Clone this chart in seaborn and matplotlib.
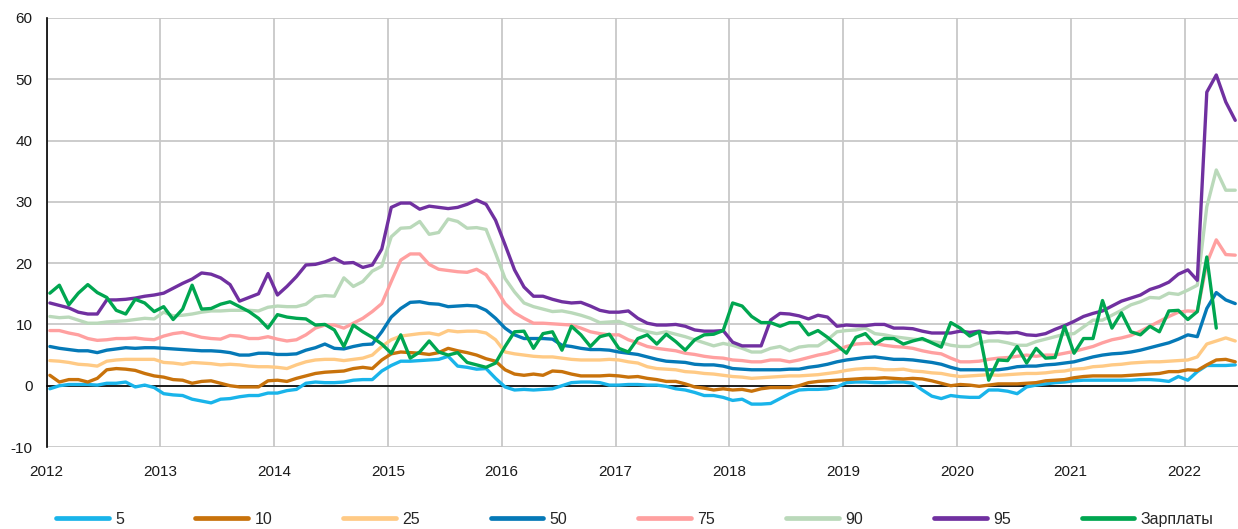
import pandas as pd
import matplotlib
matplotlib.use("Agg")
import matplotlib.pyplot as plt
from matplotlib.lines import Line2D
import seaborn as sns

# monthly values, Jan 2012 .. Jun 2022 (wages end Apr 2022)
p5 = [-0.5, 0.0, 0.2, 0.2, 0.2, 0.1, 0.4, 0.4, 0.6, -0.2, 0.1, -0.3,
      -1.3, -1.5, -1.6, -2.2, -2.5, -2.8, -2.2, -2.1, -1.8, -1.6, -1.6, -1.2,
      -1.2, -0.8, -0.6, 0.4, 0.6, 0.5, 0.5, 0.6, 0.9, 1.0, 1.0, 2.4,
      3.3, 4.0, 4.0, 4.1, 4.2, 4.3, 4.8, 3.2, 3.0, 2.7, 2.8, 1.2,
      -0.2, -0.7, -0.6, -0.7, -0.6, -0.5, 0.0, 0.5, 0.6, 0.6, 0.5, 0.1,
      0.1, 0.2, 0.2, 0.1, 0.1, -0.1, -0.5, -0.7, -1.1, -1.6, -1.6, -1.9,
      -2.4, -2.2, -3.0, -3.0, -2.9, -2.1, -1.3, -0.7, -0.6, -0.6, -0.5, -0.2,
      0.5, 0.6, 0.6, 0.5, 0.5, 0.6, 0.6, 0.4, -0.7, -1.7, -2.1, -1.6,
      -1.8, -1.9, -1.9, -0.7, -0.7, -0.9, -1.3, -0.2, 0.1, 0.3, 0.5, 0.6,
      0.8, 0.9, 0.9, 0.9, 0.9, 0.9, 0.9, 1.0, 1.0, 0.9, 0.7, 1.5,
      0.9, 2.3, 3.3, 3.3, 3.3, 3.4]
p10 = [1.7, 0.6, 1.0, 1.0, 0.6, 1.2, 2.6, 2.8, 2.7, 2.5, 2.0, 1.6,
       1.4, 1.0, 0.9, 0.4, 0.7, 0.8, 0.4, 0.0, -0.2, -0.2, -0.2, 0.8,
       0.9, 0.7, 1.2, 1.6, 2.0, 2.2, 2.3, 2.4, 2.8, 3.0, 2.8, 4.2,
       5.2, 5.5, 5.4, 5.3, 5.1, 5.4, 6.1, 5.7, 5.4, 5.0, 4.4, 4.0,
       2.6, 1.9, 1.7, 1.9, 1.7, 2.4, 2.3, 1.9, 1.6, 1.6, 1.6, 1.7,
       1.6, 1.4, 1.5, 1.2, 1.0, 0.7, 0.7, 0.3, -0.2, -0.4, -0.7, -0.5,
       -0.7, -0.6, -0.9, -0.5, -0.3, -0.3, -0.3, 0.0, 0.5, 0.7, 0.8, 0.9,
       1.0, 1.1, 1.2, 1.2, 1.3, 1.2, 1.1, 1.2, 1.1, 0.8, 0.4, 0.0,
       0.2, 0.1, -0.1, 0.1, 0.3, 0.3, 0.3, 0.4, 0.5, 0.8, 0.9, 1.0,
       1.3, 1.5, 1.6, 1.6, 1.6, 1.6, 1.7, 1.8, 1.9, 2.0, 2.3, 2.3,
       2.6, 2.5, 3.4, 4.2, 4.3, 3.9]
p25 = [4.1, 4.0, 3.8, 3.5, 3.4, 3.2, 4.0, 4.2, 4.3, 4.3, 4.3, 4.3,
       3.8, 3.7, 3.5, 3.8, 3.7, 3.6, 3.4, 3.5, 3.4, 3.2, 3.1, 3.1,
       3.0, 2.8, 3.4, 3.9, 4.2, 4.3, 4.3, 4.1, 4.3, 4.5, 5.0, 6.4,
       7.5, 8.1, 8.3, 8.5, 8.6, 8.3, 9.0, 8.8, 8.9, 8.9, 8.6, 7.5,
       5.5, 5.2, 5.0, 4.8, 4.7, 4.7, 4.5, 4.3, 4.2, 4.2, 4.2, 4.3,
       4.2, 3.9, 3.7, 3.1, 2.8, 2.7, 2.6, 2.3, 2.2, 2.0, 1.9, 1.7,
       1.5, 1.4, 1.2, 1.3, 1.4, 1.5, 1.6, 1.6, 1.7, 1.8, 2.0, 2.2,
       2.5, 2.7, 2.8, 2.8, 2.6, 2.6, 2.7, 2.4, 2.3, 2.1, 2.0, 1.7,
       1.5, 1.6, 1.7, 1.8, 1.7, 1.8, 1.9, 2.0, 2.0, 2.1, 2.3, 2.4,
       2.7, 2.8, 3.1, 3.2, 3.4, 3.5, 3.7, 3.8, 3.9, 3.9, 4.0, 4.1,
       4.2, 4.7, 6.8, 7.3, 7.8, 7.3]
p50 = [6.4, 6.1, 5.9, 5.7, 5.7, 5.4, 5.8, 6.0, 6.2, 6.1, 6.2, 6.2,
       6.1, 6.0, 5.9, 5.8, 5.7, 5.7, 5.6, 5.4, 5.0, 5.0, 5.3, 5.3,
       5.1, 5.1, 5.2, 5.8, 6.2, 6.8, 6.1, 6.0, 6.4, 6.7, 6.8, 8.8,
       11.2, 12.6, 13.6, 13.7, 13.4, 13.3, 12.9, 13.0, 13.1, 13.0, 12.3, 11.0,
       9.4, 8.3, 7.7, 7.7, 7.7, 7.6, 6.6, 6.4, 6.1, 5.9, 5.9, 5.8,
       5.5, 5.3, 5.1, 4.7, 4.3, 4.0, 3.9, 3.8, 3.5, 3.4, 3.4, 3.2,
       2.8, 2.7, 2.6, 2.6, 2.6, 2.6, 2.7, 2.7, 3.0, 3.2, 3.5, 3.9,
       4.2, 4.4, 4.6, 4.7, 4.5, 4.3, 4.3, 4.2, 4.0, 3.8, 3.5, 3.0,
       2.6, 2.6, 2.6, 2.6, 2.6, 2.8, 3.1, 3.2, 3.2, 3.4, 3.5, 3.7,
       3.9, 4.3, 4.7, 5.0, 5.2, 5.3, 5.5, 5.8, 6.2, 6.6, 7.0, 7.6,
       8.3, 8.0, 12.6, 15.2, 14.0, 13.4]
p75 = [9.0, 9.0, 8.6, 8.3, 7.7, 7.4, 7.5, 7.7, 7.7, 7.8, 7.6, 7.5,
       8.1, 8.5, 8.7, 8.3, 7.9, 7.7, 7.6, 8.2, 8.1, 7.7, 7.7, 8.0,
       7.6, 7.3, 7.5, 8.3, 9.4, 9.9, 9.9, 9.4, 10.2, 11.0, 12.1, 13.4,
       17.0, 20.5, 21.5, 21.5, 19.8, 19.0, 18.8, 18.6, 18.5, 19.0, 18.1, 15.9,
       13.4, 11.9, 11.0, 10.2, 10.2, 10.1, 10.0, 9.9, 9.4, 8.8, 8.5, 8.3,
       8.3, 7.5, 7.0, 6.4, 6.1, 5.9, 5.7, 5.3, 5.1, 4.8, 4.6, 4.5,
       4.2, 4.1, 3.9, 3.9, 4.2, 4.2, 3.9, 4.2, 4.6, 5.0, 5.3, 5.8,
       6.4, 6.8, 6.9, 6.9, 6.6, 6.4, 6.3, 6.1, 5.7, 5.4, 5.2, 4.5,
       3.9, 3.9, 4.0, 4.3, 4.5, 4.6, 4.8, 5.0, 4.8, 5.0, 5.0, 5.3,
       5.6, 6.0, 6.4, 7.0, 7.5, 7.8, 8.2, 8.9, 9.7, 10.5, 11.3, 12.0,
       12.2, 12.1, 20.0, 23.8, 21.4, 21.3]
p90 = [11.3, 11.1, 11.2, 10.7, 10.2, 10.2, 10.4, 10.5, 10.6, 10.8, 11.0, 10.9,
       12.0, 11.4, 11.5, 11.7, 12.0, 12.2, 12.2, 12.3, 12.3, 12.3, 12.2, 12.8,
       13.0, 12.9, 12.9, 13.3, 14.5, 14.7, 14.6, 17.6, 16.2, 17.0, 18.7, 19.5,
       24.3, 25.7, 25.8, 26.8, 24.7, 25.0, 27.2, 26.8, 25.7, 25.8, 25.5, 21.6,
       17.5, 15.3, 13.5, 12.9, 12.5, 12.1, 12.2, 11.9, 11.5, 11.0, 10.3, 10.4,
       10.5, 9.9, 9.2, 8.8, 8.5, 8.8, 8.4, 8.0, 7.5, 7.0, 6.5, 6.9,
       6.6, 6.1, 5.5, 5.5, 6.1, 6.4, 5.7, 6.3, 6.5, 6.5, 7.5, 8.8,
       9.0, 9.1, 9.4, 8.5, 8.3, 8.0, 7.8, 7.6, 7.5, 7.2, 7.0, 6.6,
       6.4, 6.4, 7.0, 7.3, 7.3, 7.0, 6.6, 6.6, 7.2, 7.6, 8.0, 8.4,
       8.5, 9.6, 10.7, 10.7, 11.5, 12.3, 13.2, 13.7, 14.4, 14.3, 15.1, 14.9,
       15.6, 16.4, 29.2, 35.2, 31.9, 31.9]
p95 = [13.5, 13.1, 12.7, 12.0, 11.7, 11.7, 14.0, 14.0, 14.1, 14.3, 14.6, 14.8,
       15.1, 15.9, 16.7, 17.4, 18.4, 18.2, 17.6, 16.5, 13.8, 14.4, 15.0, 18.3,
       14.8, 16.2, 17.8, 19.7, 19.8, 20.2, 20.8, 20.0, 20.1, 19.3, 19.7, 22.3,
       29.1, 29.8, 29.8, 28.8, 29.3, 29.1, 28.9, 29.1, 29.6, 30.3, 29.6, 27.0,
       23.0, 18.9, 16.1, 14.6, 14.6, 14.1, 13.7, 13.5, 13.6, 13.0, 12.3, 12.0,
       12.0, 12.2, 11.0, 10.2, 9.9, 9.9, 10.0, 9.7, 9.1, 8.9, 8.9, 9.0,
       7.1, 6.5, 6.5, 6.5, 10.7, 11.8, 11.7, 11.4, 10.9, 11.5, 11.2, 9.7,
       9.9, 9.8, 9.8, 10.0, 10.0, 9.4, 9.4, 9.3, 8.9, 8.6, 8.6, 8.6,
       8.9, 8.7, 8.9, 8.6, 8.7, 8.6, 8.7, 8.3, 8.2, 8.5, 9.2, 9.8,
       10.5, 11.3, 11.8, 12.2, 13.0, 13.8, 14.3, 14.8, 15.7, 16.2, 16.9, 18.2,
       18.9, 17.2, 47.9, 50.7, 46.3, 43.3]
wages = [15.1, 16.4, 13.2, 15.1, 16.5, 15.2, 14.4, 12.3, 11.7, 14.1, 13.5, 12.1,
         12.9, 10.8, 12.5, 16.4, 12.5, 12.6, 13.3, 13.7, 12.9, 12.1, 11.0, 9.4,
         11.6, 11.2, 11.0, 10.9, 9.9, 10.0, 9.1, 6.4, 9.9, 8.8, 7.9, 6.8,
         5.3, 8.3, 4.5, 5.5, 7.3, 5.5, 5.0, 5.4, 3.8, 3.4, 3.0, 3.7,
         6.4, 8.8, 8.9, 6.1, 8.5, 8.8, 5.8, 9.7, 8.3, 6.4, 8.0, 8.4,
         6.1, 5.5, 7.7, 8.3, 6.8, 8.4, 7.2, 5.8, 7.5, 8.3, 8.4, 9.0,
         13.5, 13.0, 11.3, 10.3, 10.3, 9.7, 10.3, 10.3, 8.3, 9.0, 7.9, 6.6,
         5.3, 7.9, 8.5, 6.8, 7.7, 7.7, 6.8, 7.3, 7.7, 7.0, 6.3, 10.3,
         9.4, 8.1, 8.8, 0.9, 4.2, 4.1, 6.4, 3.7, 6.1, 4.5, 4.6, 9.7,
         5.3, 7.7, 7.7, 13.9, 9.4, 11.9, 8.8, 8.3, 9.7, 8.8, 12.2, 12.3,
         10.8, 12.1, 21.0, 9.4]

labels = ["5", "10", "25", "50", "75", "90", "95", "Зарплаты"]
colors = ["#19b4ea", "#c8720b", "#ffca85", "#0579b7",
          "#ffa0a0", "#bad9ba", "#7030a0", "#00a650"]
values = [p5, p10, p25, p50, p75, p90, p95, wages]

months = pd.date_range("2012-01-01", periods=len(p5), freq="MS")
t = months.year + (months.month - 1 + 0.35) / 12

frames = []
for name, vals in zip(labels, values):
    frames.append(pd.DataFrame({"t": t[:len(vals)], "v": vals, "s": name}))
df = pd.concat(frames, ignore_index=True)

sns.set_style("white")
plt.rcParams["font.family"] = ["Liberation Sans", "DejaVu Sans"]
plt.rcParams["axes.unicode_minus"] = False

fig = plt.figure(figsize=(12.38, 5.29), dpi=100)
ax = fig.add_axes([0.0376, 0.155, 0.9624, 0.811])

sns.lineplot(data=df, x="t", y="v", hue="s", hue_order=labels,
             palette=dict(zip(labels, colors)), estimator=None,
             linewidth=2.4, legend=False, ax=ax, zorder=3)

ax.set_xlim(2012, 2022.47)
ax.set_ylim(-10, 60)
ax.set_xticks(range(2012, 2023))
ax.set_yticks(range(-10, 61, 10))
ax.set_xlabel("")
ax.set_ylabel("")
ax.grid(True, color="#c8c8c8", linewidth=1.3)
ax.set_axisbelow(True)

for s in ["top", "right"]:
    ax.spines[s].set_visible(False)
ax.spines["bottom"].set_position(("data", 0))
ax.spines["bottom"].set_color("black")
ax.spines["bottom"].set_linewidth(1.2)
ax.spines["left"].set_color("black")
ax.spines["left"].set_linewidth(1.2)

ax.tick_params(axis="x", direction="out", length=5, width=1.2,
               pad=52, labelsize=11, colors="black")
ax.tick_params(axis="y", direction="out", length=5, width=1.2,
               pad=5, labelsize=11, colors="black")
ax.tick_params(axis="both", labelcolor="#1a1a1a")

handles = [Line2D([], [], color=c, linewidth=3.4) for c in colors]
fig.legend(handles, labels, loc="lower left", ncol=8, mode="expand",
           bbox_to_anchor=(0.0437, 0.0, 0.9386, 0.06), frameon=False,
           handlelength=3.3, handletextpad=0.4, fontsize=11.5,
           borderaxespad=0, borderpad=0.15)

fig.savefig("out.png", dpi=100)
